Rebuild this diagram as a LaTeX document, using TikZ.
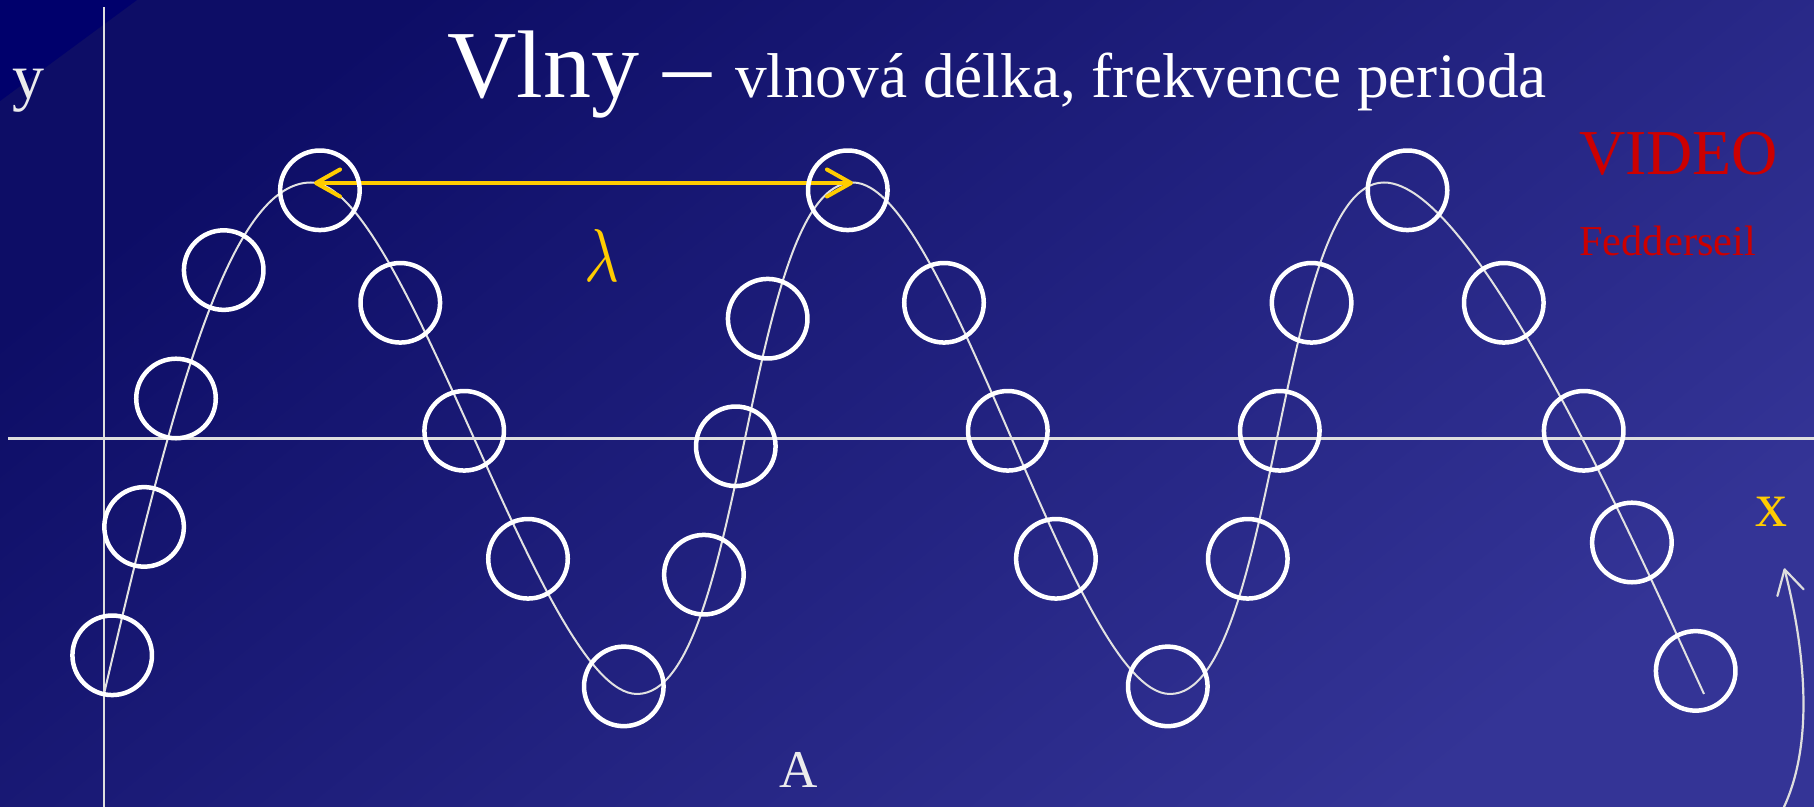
\documentclass[tikz,border=0pt]{standalone}
\usepackage{fontspec}
\setmainfont{Liberation Serif}
\usepackage{graphicx}
\usetikzlibrary{arrows.meta}
\definecolor{bgA}{RGB}{13,13,102}
\definecolor{bgB}{RGB}{52,52,150}
\definecolor{corner}{RGB}{0,0,108}
\definecolor{axisgray}{RGB}{222,222,222}
\definecolor{wavegray}{RGB}{226,226,226}
\definecolor{lamyellow}{RGB}{255,204,0}
\definecolor{vidred}{RGB}{204,0,0}
\definecolor{softwhite}{RGB}{236,236,236}
\begin{document}
\begin{tikzpicture}[x=0.01cm,y=-0.01cm,
  >={Straight Barb[length=2.4mm,width=2.7mm,round]},
  ball/.style={circle,draw=white,line width=0.045cm,minimum size=0.795cm,inner sep=0pt,outer sep=0pt},
  axisline/.style={draw=axisgray,line width=0.025cm},
  waveline/.style={draw=wavegray,line width=0.02cm},
  lamarrow/.style={draw=lamyellow,line width=0.04cm,<->},
  bentarrow/.style={draw=axisgray,line width=0.022cm,->},
  lbl/.style={anchor=base west,inner sep=0pt,outer sep=0pt},
]
\useasboundingbox (0,0) rectangle (1814,807);
% background
\shade[top color=bgA,bottom color=bgB,shading angle=39] (0,0) rectangle (1814,807);
\fill[corner] (0,0) -- (137,0) -- (0,101) -- cycle;
% axes
\coordinate (yTop) at (104,7);
\coordinate (yBot) at (104,807);
\coordinate (xLeft) at (8,438.5);
\coordinate (xRight) at (1814,438.5);
\draw[axisline] (yTop) -- (yBot);
\draw[axisline] (xLeft) -- (xRight);
% wave
\draw[waveline] (104,694) .. controls (174,394) and (230,182.5) .. (311,182.5)
  .. controls (406,182.5) and (542,694) .. (637,694)
  .. controls (745,694) and (745,182.5) .. (853,182.5)
  .. controls (948,182.5) and (1075,694) .. (1170,694)
  .. controls (1277,694) and (1277,182.5) .. (1384,182.5)
  .. controls (1475,182.5) and (1635,544) .. (1704,694);
% wavelength arrow
\coordinate (lamL) at (314,183);
\coordinate (lamR) at (853,183);
\draw[lamarrow] (lamL) -- (lamR);
% particles
\foreach \n/\px/\py in {1/112.2/655.3,2/144.1/526.9,3/176.0/398.5,4/223.7/270.1,5/319.9/190.3,
  6/400.3/302.8,7/464.2/430.8,8/528.0/558.8,9/623.8/686.4,10/703.9/574.7,
  11/735.8/446.3,12/767.7/318.7,13/847.8/190.3,14/944.0/302.8,15/1007.8/430.8,
  16/1055.9/558.8,17/1167.8/686.4,18/1247.8/558.8,19/1279.8/430.8,20/1311.6/302.8,
  21/1407.5/190.3,22/1503.8/302.8,23/1583.7/430.8,24/1631.9/542.5,25/1695.7/670.9}
  {\node[ball] (c\n) at (\px,\py) {};}
% texts
\node[lbl,text=softwhite,font=\fontsize{18.2pt}{20pt}\selectfont] (ylab) at (12,99) {y};
\node[lbl,text=white] (title) at (447,98) {{\fontsize{27.3pt}{30pt}\selectfont Vlny –\ }{\fontsize{18pt}{20pt}\selectfont vlnová délka, frekvence perioda}};
\node[inner sep=0pt,outer sep=0pt,text=lamyellow] (lam) at (601.5,255) {\scalebox{1.7}[2.13]{$\lambda$}};
\node[lbl,text=vidred,font=\fontsize{18.2pt}{20pt}\selectfont] (video) at (1579,175) {VIDEO};
\node[lbl,text=vidred,font=\fontsize{12.1pt}{14pt}\selectfont] (fed) at (1579,256) {Fedderseil};
\node[lbl,text=lamyellow,font=\fontsize{18.2pt}{20pt}\selectfont] (xlab) at (1755,527) {x};
\node[lbl,text=softwhite,font=\fontsize{15.1pt}{17pt}\selectfont] (alab) at (779,788) {A};
% bent arrow
\coordinate (bendStart) at (1780,815);
\coordinate (bendEnd) at (1784.3,568.3);
\draw[bentarrow] (bendStart) .. controls (1820,740) and (1800,630) .. (bendEnd);
\end{tikzpicture}
\end{document}
